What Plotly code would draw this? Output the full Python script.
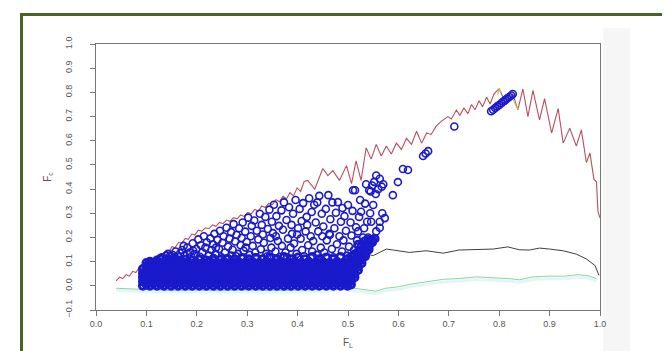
import plotly.graph_objects as go

# ---------------- data ----------------
# upper (red) zig-zag envelope
red_x = [0.040, 0.047, 0.053, 0.060, 0.066, 0.073, 0.079, 0.086, 0.092, 0.099,
         0.105, 0.112, 0.118, 0.125, 0.131, 0.138, 0.144, 0.151, 0.157, 0.164,
         0.170, 0.177, 0.183, 0.190, 0.196, 0.203, 0.210, 0.217, 0.224, 0.231,
         0.238, 0.245, 0.252, 0.259, 0.266, 0.273, 0.280, 0.287, 0.294, 0.301,
         0.308, 0.315, 0.322, 0.329, 0.336, 0.343, 0.350, 0.357, 0.364, 0.371,
         0.378, 0.385, 0.392, 0.399, 0.406, 0.413, 0.420, 0.434, 0.450, 0.460,
         0.470, 0.483, 0.497, 0.507, 0.516, 0.526, 0.536, 0.546, 0.556, 0.566,
         0.576, 0.586, 0.596, 0.606, 0.616, 0.626, 0.636, 0.646, 0.656, 0.665,
         0.675, 0.685, 0.698, 0.705, 0.715, 0.722, 0.730, 0.738, 0.745, 0.752,
         0.760, 0.767, 0.775, 0.782, 0.790, 0.800, 0.814, 0.827, 0.837, 0.847,
         0.857, 0.867, 0.880, 0.890, 0.904, 0.917, 0.927, 0.940, 0.953, 0.963,
         0.973, 0.980, 0.988, 0.993, 0.996, 1.000]
red_y = [0.020, 0.036, 0.030, 0.046, 0.040, 0.060, 0.055, 0.076, 0.072, 0.094,
         0.090, 0.110, 0.106, 0.126, 0.121, 0.143, 0.138, 0.162, 0.158, 0.180,
         0.176, 0.196, 0.192, 0.214, 0.210, 0.230, 0.226, 0.240, 0.236, 0.252,
         0.246, 0.262, 0.257, 0.272, 0.267, 0.282, 0.277, 0.293, 0.287, 0.304,
         0.298, 0.316, 0.309, 0.330, 0.324, 0.342, 0.336, 0.356, 0.348, 0.370,
         0.360, 0.385, 0.372, 0.405, 0.390, 0.432, 0.436, 0.400, 0.485, 0.456,
         0.476, 0.436, 0.497, 0.423, 0.517, 0.436, 0.571, 0.524, 0.585, 0.537,
         0.578, 0.545, 0.590, 0.564, 0.610, 0.585, 0.639, 0.590, 0.632, 0.626,
         0.660, 0.680, 0.700, 0.690, 0.727, 0.705, 0.735, 0.712, 0.750, 0.728,
         0.765, 0.740, 0.780, 0.752, 0.795, 0.815, 0.750, 0.794, 0.728, 0.814,
         0.700, 0.808, 0.686, 0.774, 0.632, 0.733, 0.590, 0.652, 0.578, 0.645,
         0.510, 0.550, 0.440, 0.430, 0.307, 0.280]

# middle (black) line
black_x = [0.530, 0.540, 0.550, 0.576, 0.590, 0.622, 0.655, 0.689, 0.720, 0.755,
           0.788, 0.817, 0.840, 0.860, 0.880, 0.900, 0.927, 0.953, 0.973, 0.990,
           0.998]
black_y = [0.100, 0.130, 0.125, 0.152, 0.148, 0.138, 0.145, 0.135, 0.148, 0.149,
           0.152, 0.161, 0.149, 0.148, 0.156, 0.152, 0.145, 0.131, 0.111, 0.084,
           0.043]

# lower (green) line
green_x = [0.040, 0.060, 0.080, 0.100, 0.150, 0.200, 0.250, 0.300, 0.350, 0.400,
           0.450, 0.490, 0.510, 0.530, 0.555, 0.575, 0.600, 0.622, 0.655, 0.689,
           0.720, 0.755, 0.788, 0.820, 0.840, 0.867, 0.900, 0.930, 0.958, 0.978,
           0.993]
green_y = [-0.010, -0.012, -0.015, -0.018, -0.020, -0.018, -0.020, -0.017, -0.020, -0.018,
           -0.015, -0.004, -0.010, -0.017, -0.022, -0.010, -0.004, 0.006, 0.016, 0.027,
           0.030, 0.037, 0.033, 0.030, 0.025, 0.037, 0.040, 0.040, 0.046, 0.041,
           0.030]
cyan_y = [-0.018, -0.020, -0.022, -0.025, -0.026, -0.025, -0.027, -0.025, -0.027, -0.025,
          -0.023, -0.014, -0.020, -0.027, -0.032, -0.020, -0.014, -0.004, 0.006, 0.016,
          0.020, 0.026, 0.023, 0.020, 0.015, 0.026, 0.029, 0.029, 0.035, 0.031,
          0.020]

# small yellow-green pieces near the peak
yel_x = [0.797, 0.800, 0.803, None, 0.828, 0.833, 0.838]
yel_y = [0.790, 0.815, 0.800, None, 0.770, 0.745, 0.730]

# dense lower band of circles, by column: x -> list of y
dense_cols = {
    0.093: [0.00, 0.018, 0.035, 0.052, 0.07],
    0.100: [0.005, 0.025, 0.043, 0.06, 0.08, 0.095],
    0.107: [0.00, 0.015, 0.033, 0.05, 0.068, 0.085, 0.10],
    0.114: [0.008, 0.025, 0.042, 0.06, 0.078, 0.095],
    0.121: [0.00, 0.017, 0.035, 0.052, 0.07, 0.088, 0.105],
    0.128: [0.006, 0.024, 0.04, 0.058, 0.075, 0.093, 0.112],
    0.135: [0.00, 0.015, 0.033, 0.05, 0.067, 0.085, 0.10],
    0.142: [0.008, 0.026, 0.044, 0.06, 0.078, 0.096, 0.11],
    0.149: [0.00, 0.018, 0.035, 0.052, 0.07, 0.088, 0.105],
    0.156: [0.006, 0.024, 0.042, 0.06, 0.076, 0.094, 0.11],
    0.163: [0.00, 0.016, 0.034, 0.05, 0.068, 0.086, 0.104],
    0.170: [0.008, 0.025, 0.043, 0.06, 0.08, 0.098],
    0.177: [0.00, 0.018, 0.036, 0.053, 0.07, 0.088, 0.108],
    0.184: [0.006, 0.024, 0.04, 0.058, 0.076, 0.095],
    0.191: [0.00, 0.017, 0.034, 0.052, 0.07, 0.087, 0.105],
    0.198: [0.008, 0.026, 0.044, 0.06, 0.08, 0.098],
    0.205: [0.00, 0.018, 0.035, 0.053, 0.07, 0.09, 0.108],
    0.212: [0.006, 0.024, 0.042, 0.06, 0.077, 0.095],
    0.219: [0.00, 0.016, 0.034, 0.05, 0.068, 0.086, 0.105],
    0.226: [0.008, 0.025, 0.043, 0.062, 0.08, 0.10],
    0.233: [0.00, 0.018, 0.036, 0.054, 0.072, 0.09, 0.112],
    0.240: [0.006, 0.024, 0.042, 0.06, 0.078, 0.096],
    0.247: [0.00, 0.016, 0.034, 0.052, 0.07, 0.088, 0.108],
    0.254: [0.008, 0.026, 0.044, 0.062, 0.08, 0.10],
    0.261: [0.00, 0.018, 0.036, 0.054, 0.072, 0.09, 0.112],
    0.268: [0.006, 0.024, 0.042, 0.06, 0.078, 0.096],
    0.275: [0.00, 0.016, 0.034, 0.052, 0.07, 0.088, 0.11],
    0.282: [0.008, 0.025, 0.043, 0.062, 0.08, 0.10],
    0.289: [0.00, 0.018, 0.036, 0.054, 0.072, 0.09, 0.115],
    0.296: [0.006, 0.024, 0.042, 0.06, 0.078, 0.096],
    0.303: [0.00, 0.016, 0.034, 0.052, 0.07, 0.088, 0.11],
    0.310: [0.008, 0.026, 0.044, 0.062, 0.08, 0.10],
    0.317: [0.00, 0.018, 0.036, 0.054, 0.072, 0.09, 0.115],
    0.324: [0.006, 0.024, 0.042, 0.06, 0.078, 0.096],
    0.331: [0.00, 0.016, 0.034, 0.052, 0.07, 0.088, 0.11],
    0.338: [0.008, 0.025, 0.043, 0.062, 0.08, 0.10],
    0.345: [0.00, 0.018, 0.036, 0.054, 0.072, 0.09, 0.118],
    0.352: [0.006, 0.024, 0.042, 0.06, 0.078, 0.096],
    0.359: [0.00, 0.016, 0.034, 0.052, 0.07, 0.088, 0.11],
    0.366: [0.008, 0.026, 0.044, 0.062, 0.08, 0.10],
    0.373: [0.00, 0.018, 0.036, 0.054, 0.072, 0.09, 0.12],
    0.380: [0.006, 0.024, 0.042, 0.06, 0.078, 0.096],
    0.387: [0.00, 0.016, 0.034, 0.052, 0.07, 0.088, 0.11],
    0.394: [0.008, 0.025, 0.043, 0.062, 0.08, 0.10],
    0.401: [0.00, 0.018, 0.036, 0.054, 0.072, 0.09, 0.118],
    0.408: [0.006, 0.024, 0.042, 0.06, 0.078, 0.096],
    0.415: [0.00, 0.016, 0.034, 0.052, 0.07, 0.088, 0.11],
    0.422: [0.008, 0.026, 0.044, 0.062, 0.08, 0.10],
    0.429: [0.00, 0.018, 0.036, 0.054, 0.072, 0.09, 0.12],
    0.436: [0.006, 0.024, 0.042, 0.06, 0.078, 0.096],
    0.443: [0.00, 0.016, 0.034, 0.052, 0.07, 0.088, 0.11],
    0.450: [0.008, 0.025, 0.043, 0.062, 0.08, 0.10],
    0.457: [0.00, 0.018, 0.036, 0.054, 0.072, 0.09, 0.118],
    0.464: [0.006, 0.024, 0.042, 0.06, 0.078, 0.096],
    0.471: [0.00, 0.016, 0.034, 0.052, 0.07, 0.088, 0.11],
    0.478: [0.008, 0.026, 0.044, 0.062, 0.08, 0.10],
    0.485: [0.00, 0.018, 0.036, 0.054, 0.072, 0.09, 0.12],
    0.492: [0.006, 0.024, 0.042, 0.06, 0.078, 0.096],
    0.499: [0.00, 0.016, 0.034, 0.052, 0.07, 0.088, 0.11],
    0.506: [0.005, 0.02, 0.036, 0.054, 0.072, 0.09, 0.12],
    0.513: [0.035, 0.05, 0.066, 0.082, 0.10, 0.13],
    0.520: [0.065, 0.08, 0.10, 0.118, 0.14, 0.17],
    0.527: [0.093, 0.108, 0.125, 0.142, 0.165],
    0.534: [0.122, 0.135, 0.15, 0.168, 0.185],
    0.541: [0.15, 0.162, 0.178, 0.19],
    0.548: [0.18, 0.19],
    0.553: [0.195],
}

# sparser circles above the dense band (x, y)
upper_pts = [
    (0.131, 0.118), (0.139, 0.125), (0.146, 0.121), (0.143, 0.132),
    (0.152, 0.128), (0.158, 0.142), (0.163, 0.120), (0.167, 0.135), (0.155, 0.118),
    (0.171, 0.148), (0.176, 0.126), (0.181, 0.158), (0.186, 0.138), (0.189, 0.119), (0.174, 0.165),
    (0.192, 0.176), (0.195, 0.131), (0.199, 0.152), (0.203, 0.192), (0.206, 0.120), (0.208, 0.168), (0.193, 0.145),
    (0.211, 0.139), (0.214, 0.205), (0.217, 0.158), (0.220, 0.180), (0.224, 0.125), (0.227, 0.196), (0.229, 0.148),
    (0.232, 0.172), (0.235, 0.215), (0.237, 0.131), (0.241, 0.190), (0.244, 0.152), (0.246, 0.228), (0.249, 0.118), (0.238, 0.158),
    (0.251, 0.178), (0.253, 0.205), (0.256, 0.138), (0.259, 0.240), (0.262, 0.162), (0.265, 0.195), (0.268, 0.222), (0.269, 0.125),
    (0.271, 0.149), (0.273, 0.255), (0.276, 0.183), (0.279, 0.210), (0.282, 0.132), (0.284, 0.238), (0.287, 0.168), (0.289, 0.198), (0.278, 0.122),
    (0.291, 0.262), (0.293, 0.145), (0.296, 0.224), (0.299, 0.181), (0.302, 0.282), (0.305, 0.128), (0.307, 0.205), (0.309, 0.248), (0.297, 0.158),
    (0.311, 0.165), (0.314, 0.270), (0.316, 0.138), (0.319, 0.228), (0.322, 0.192), (0.325, 0.298), (0.327, 0.151), (0.329, 0.252), (0.318, 0.118), (0.331, 0.212),
    (0.333, 0.178), (0.336, 0.285), (0.338, 0.132), (0.341, 0.235), (0.344, 0.315), (0.346, 0.198), (0.348, 0.158), (0.349, 0.265), (0.340, 0.122),
    (0.351, 0.218), (0.353, 0.335), (0.356, 0.142), (0.358, 0.288), (0.361, 0.185), (0.363, 0.248), (0.366, 0.120), (0.368, 0.312), (0.369, 0.165), (0.357, 0.205),
    (0.371, 0.232), (0.373, 0.345), (0.376, 0.138), (0.378, 0.272), (0.381, 0.195), (0.383, 0.325), (0.386, 0.158), (0.388, 0.252), (0.379, 0.118), (0.389, 0.215),
    (0.391, 0.298), (0.393, 0.175), (0.396, 0.355), (0.398, 0.132), (0.401, 0.238), (0.404, 0.318), (0.406, 0.195), (0.408, 0.268), (0.409, 0.148), (0.399, 0.212),
    (0.411, 0.342), (0.413, 0.122), (0.416, 0.225), (0.418, 0.285), (0.421, 0.168), (0.423, 0.362), (0.426, 0.205), (0.428, 0.305), (0.429, 0.142), (0.419, 0.252),
    (0.431, 0.185), (0.433, 0.335), (0.436, 0.262), (0.438, 0.128), (0.441, 0.225), (0.443, 0.372), (0.446, 0.158), (0.448, 0.298), (0.449, 0.205), (0.439, 0.345),
    (0.451, 0.245), (0.453, 0.138), (0.456, 0.318), (0.458, 0.188), (0.461, 0.375), (0.463, 0.215), (0.465, 0.275), (0.468, 0.152), (0.469, 0.345), (0.464, 0.210),
    (0.471, 0.118), (0.473, 0.238), (0.476, 0.302), (0.478, 0.172), (0.480, 0.346), (0.483, 0.205), (0.486, 0.265), (0.488, 0.142), (0.489, 0.322),
    (0.491, 0.188), (0.493, 0.288), (0.496, 0.228), (0.498, 0.125), (0.500, 0.334), (0.502, 0.162), (0.505, 0.262), (0.507, 0.208), (0.509, 0.310), (0.510, 0.395),
    (0.512, 0.148), (0.514, 0.395), (0.516, 0.242), (0.518, 0.188), (0.520, 0.225), (0.522, 0.285), (0.524, 0.355), (0.526, 0.306), (0.528, 0.168), (0.530, 0.200),
    (0.532, 0.238), (0.534, 0.340), (0.536, 0.420), (0.538, 0.265), (0.540, 0.200), (0.542, 0.395), (0.544, 0.300), (0.546, 0.265), (0.548, 0.415), (0.550, 0.334), (0.545, 0.390),
    (0.552, 0.430), (0.555, 0.380), (0.556, 0.456), (0.556, 0.225), (0.560, 0.400), (0.563, 0.443), (0.563, 0.240), (0.563, 0.265), (0.567, 0.410), (0.573, 0.280), (0.568, 0.300), (0.570, 0.420),
]

# isolated points and the small cluster near the peak
extra_x = [0.589, 0.599, 0.609, 0.619, 0.649, 0.654, 0.659, 0.711,
           0.784, 0.788, 0.792, 0.796, 0.800, 0.804, 0.808, 0.812, 0.816, 0.820, 0.824, 0.827]
extra_y = [0.375, 0.429, 0.483, 0.479, 0.537, 0.547, 0.557, 0.659,
           0.722, 0.728, 0.735, 0.742, 0.748, 0.755, 0.762, 0.768, 0.775, 0.781, 0.787, 0.793]

x_ticks = [0.0, 0.1, 0.2, 0.3, 0.4, 0.5, 0.6, 0.7, 0.8, 0.9, 1.0]
y_ticks = [-0.1, 0.0, 0.1, 0.2, 0.3, 0.4, 0.5, 0.6, 0.7, 0.8, 0.9, 1.0]

# ---------------- figure ----------------
dense_x, dense_y = [], []
for cx, ys in dense_cols.items():
    for yv in ys:
        dense_x.append(cx)
        dense_y.append(yv)
sparse_x = [p[0] for p in upper_pts] + extra_x
sparse_y = [p[1] for p in upper_pts] + extra_y

BLUE = "#1a1acc"
fig = go.Figure()
fig.add_trace(go.Scatter(x=green_x, y=cyan_y, mode="lines",
                         line=dict(color="rgba(170,230,230,0.35)", width=3)))
fig.add_trace(go.Scatter(x=green_x, y=green_y, mode="lines",
                         line=dict(color="#8fd39b", width=1)))
fig.add_trace(go.Scatter(x=black_x, y=black_y, mode="lines",
                         line=dict(color="#404040", width=1)))
fig.add_trace(go.Scatter(x=red_x, y=red_y, mode="lines",
                         line=dict(color="#b9505e", width=1.1)))
fig.add_trace(go.Scatter(x=yel_x, y=yel_y, mode="lines",
                         line=dict(color="#c9c552", width=1.2)))
fig.add_trace(go.Scatter(x=dense_x, y=dense_y, mode="markers",
                         marker=dict(symbol="circle-open", size=7, color=BLUE,
                                     line=dict(width=2.8, color=BLUE))))
fig.add_trace(go.Scatter(x=sparse_x, y=sparse_y, mode="markers",
                         marker=dict(symbol="circle-open", size=7, color=BLUE,
                                     line=dict(width=1.6, color=BLUE))))

axis_common = dict(showline=True, mirror=True, linecolor="#777777", linewidth=1,
                   ticks="outside", ticklen=5, tickcolor="#777777", showgrid=False,
                   zeroline=False, tickfont=dict(family="Liberation Sans", size=9, color="#555555"),
                   tickformat=".1f")

fig.update_layout(
    width=670, height=351,
    margin=dict(l=88, r=78, t=36, b=44),
    paper_bgcolor="white", plot_bgcolor="white",
    showlegend=False,
    xaxis=dict(range=[0, 1.0], tickvals=x_ticks,
               title=dict(text="F<sub>L</sub>", standoff=11,
                          font=dict(family="Liberation Sans", size=10, color="#555555")),
               **axis_common),
    yaxis=dict(range=[-0.1, 1.0], tickvals=y_ticks, tickangle=-90,
               ticklabelstandoff=14,
               title=dict(text="F<sub>c</sub>", standoff=10,
                          font=dict(family="Liberation Sans", size=10, color="#555555")),
               **axis_common),
    shapes=[
        dict(type="rect", xref="paper", yref="paper", layer="below",
             x0=1.006, x1=1.06, y0=-0.17, y1=1.059,
             fillcolor="#f6f6f6", line=dict(width=0)),
        dict(type="rect", xref="paper", yref="paper",
             x0=-0.1478, x1=1.1448, y0=-0.2, y1=1.1107,
             line=dict(color="#4a6226", width=3)),
    ],
)

fig.write_html("out.html")
